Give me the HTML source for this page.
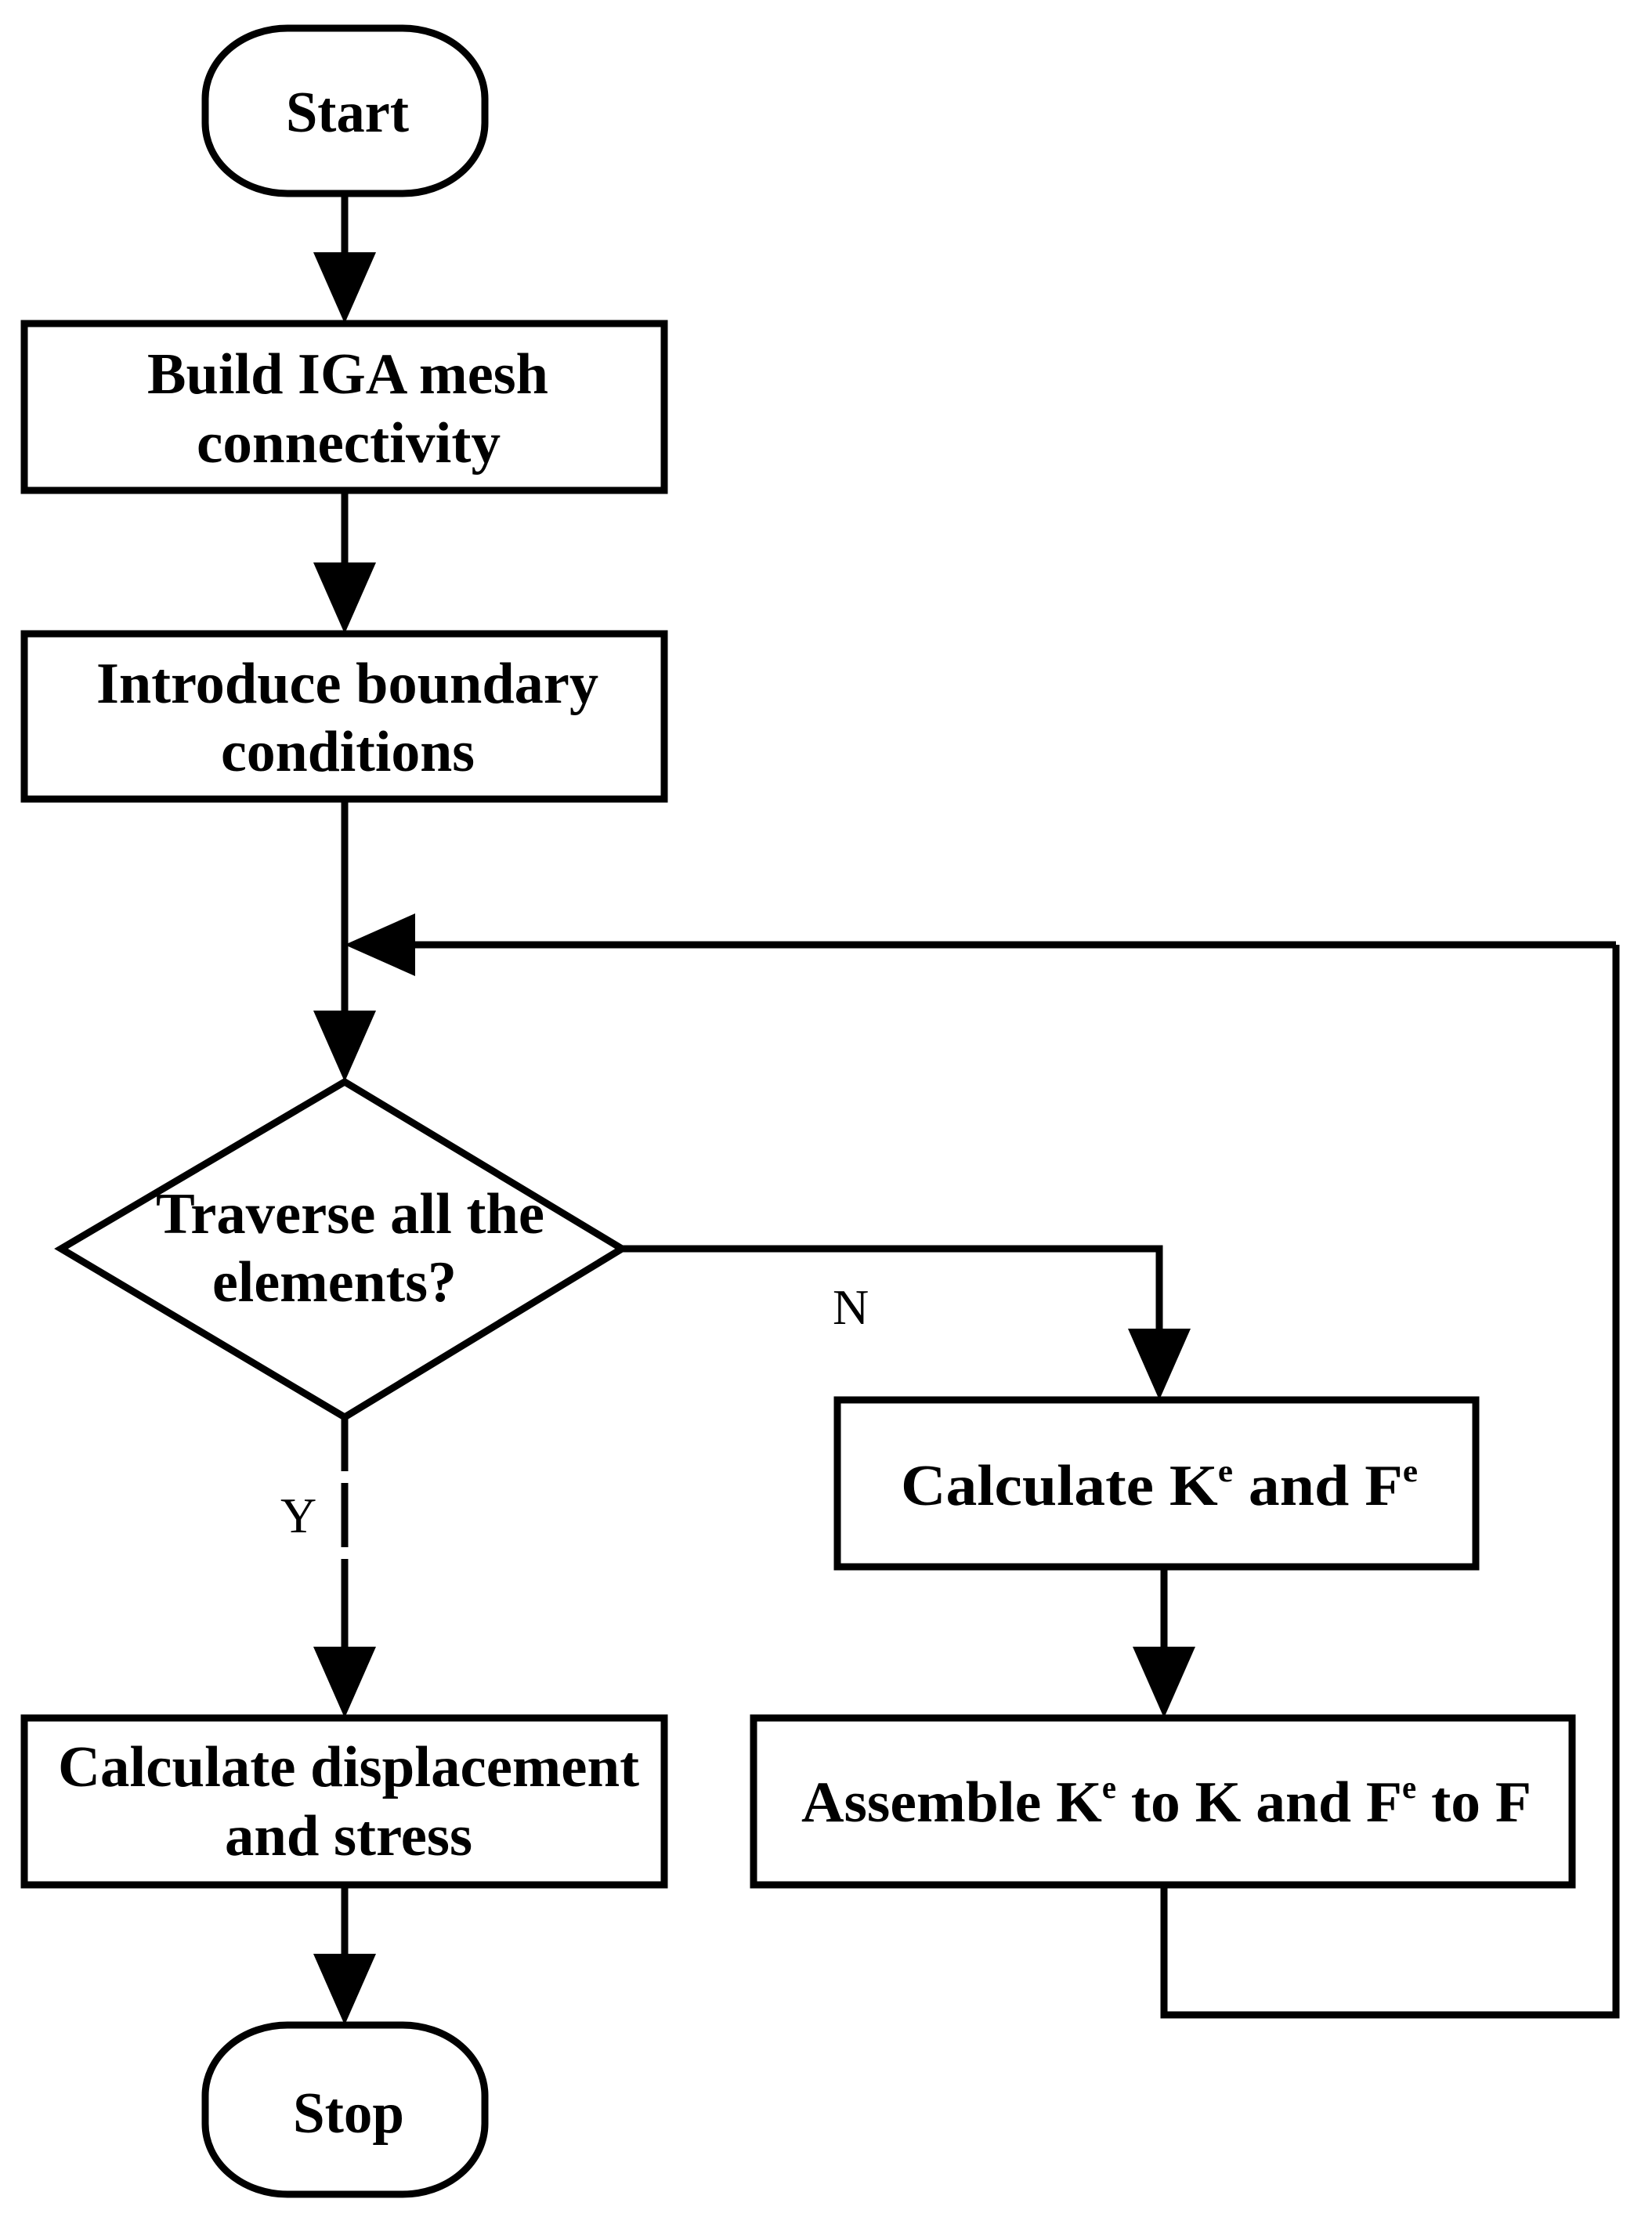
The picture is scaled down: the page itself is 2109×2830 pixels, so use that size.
<!DOCTYPE html>
<html><head><style>html,body{margin:0;padding:0;background:#fff}svg{display:block}</style></head>
<body>
<svg width="2109" height="2830" viewBox="0 0 2109 2830" xmlns="http://www.w3.org/2000/svg">
<g fill="none" stroke="#000" stroke-width="9">
<rect x="262" y="36" width="357" height="211" rx="105" ry="90"/>
<rect x="31" y="413" width="817" height="213"/>
<rect x="31" y="809" width="817" height="211"/>
<polygon points="78,1594 440,1381 794,1594 440,1809"/>
<rect x="1069" y="1787" width="815" height="213"/>
<rect x="962" y="2193" width="1045" height="213"/>
<rect x="31" y="2193" width="817" height="213"/>
<rect x="262" y="2585" width="357" height="216" rx="105" ry="90"/>
<line x1="440" y1="247" x2="440" y2="330"/>
<line x1="440" y1="626" x2="440" y2="725"/>
<line x1="440" y1="1020" x2="440" y2="1290"/>
<polyline points="2063,1206 2063,2572 1486,2572 1486,2406"/>
<line x1="2063" y1="1206" x2="526" y2="1206"/>
<polyline points="794,1594 1480,1594 1480,1700"/>
<line x1="1486" y1="2000" x2="1486" y2="2110"/>
<line x1="440" y1="1809" x2="440" y2="1878"/>
<line x1="440" y1="1893" x2="440" y2="1975"/>
<line x1="440" y1="1990" x2="440" y2="2110"/>
<line x1="440" y1="2406" x2="440" y2="2500"/>
</g>
<g fill="#000">
<polygon points="400,322 480,322 440,413"/>
<polygon points="400,718 480,718 440,809"/>
<polygon points="400,1290 480,1290 440,1381"/>
<polygon points="440,1206 530,1166 530,1246"/>
<polygon points="1440,1696 1520,1696 1480,1787"/>
<polygon points="1446,2102 1526,2102 1486,2193"/>
<polygon points="400,2102 480,2102 440,2193"/>
<polygon points="400,2494 480,2494 440,2585"/>
</g>
<g font-family="Liberation Serif, serif" font-weight="bold" font-size="74" fill="#000">
<text x="365" y="168" textLength="157" lengthAdjust="spacingAndGlyphs">Start</text>
<text x="188" y="502" textLength="512" lengthAdjust="spacingAndGlyphs">Build IGA mesh</text>
<text x="251" y="590" textLength="388" lengthAdjust="spacingAndGlyphs">connectivity</text>
<text x="123" y="897" textLength="641" lengthAdjust="spacingAndGlyphs">Introduce boundary</text>
<text x="282" y="984" textLength="324" lengthAdjust="spacingAndGlyphs">conditions</text>
<text x="199" y="1574" textLength="496" lengthAdjust="spacingAndGlyphs">Traverse all the</text>
<text x="271" y="1661" textLength="312" lengthAdjust="spacingAndGlyphs">elements?</text>
<text x="1150" y="1921" textLength="660" lengthAdjust="spacingAndGlyphs">Calculate  K<tspan font-size="40" dy="-30">e</tspan><tspan dy="30">   and F</tspan><tspan font-size="40" dy="-30">e</tspan></text>
<text x="74" y="2280" textLength="742" lengthAdjust="spacingAndGlyphs">Calculate displacement</text>
<text x="287" y="2368" textLength="316" lengthAdjust="spacingAndGlyphs">and stress</text>
<text x="1023" y="2325" textLength="932" lengthAdjust="spacingAndGlyphs">Assemble K<tspan font-size="40" dy="-30">e</tspan><tspan dy="30">  to K and F</tspan><tspan font-size="40" dy="-30">e</tspan><tspan dy="30"> to F</tspan></text>
<text x="374" y="2722" textLength="142" lengthAdjust="spacingAndGlyphs">Stop</text>
</g>
<g font-family="Liberation Serif, serif" font-size="64" fill="#000">
<text x="358" y="1956">Y</text>
<text x="1063" y="1690">N</text>
</g>
</svg>
</body></html>
